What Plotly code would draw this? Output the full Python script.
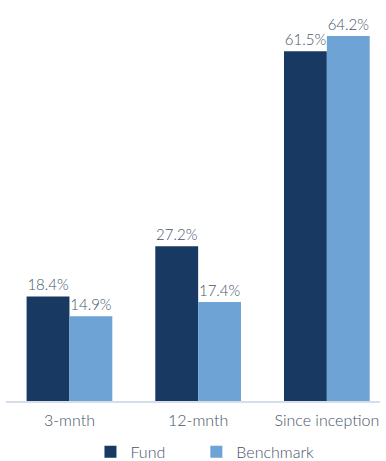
import plotly.graph_objects as go

categories = ["3-mnth", "12-mnth", "Since inception"]
fund = [18.4, 27.2, 61.5]
benchmark = [14.9, 17.4, 64.2]
series_names = ["Fund", "Benchmark"]

text_color = "#44546A"
font_family = "Lato, 'Open Sans', sans-serif"
pad = "\u00a0" * 6

fig = go.Figure()
fig.add_trace(go.Bar(
    name=series_names[0] + pad, x=categories, y=fund,
    marker=dict(color="#183A62", line=dict(width=0)),
    text=[f"{v:.1f}%" for v in fund], textposition="outside",
    textfont=dict(color=text_color, size=15, family=font_family, weight=300),
    cliponaxis=False,
))
fig.add_trace(go.Bar(
    name=series_names[1], x=categories, y=benchmark,
    marker=dict(color="#6EA3D6", line=dict(width=0)),
    text=[f"{v:.1f}%" for v in benchmark], textposition="outside",
    textfont=dict(color=text_color, size=15, family=font_family, weight=300),
    cliponaxis=False,
))

fig.update_layout(
    width=386, height=461,
    margin=dict(l=6, r=6, t=3, b=60, autoexpand=False),
    barmode="group", bargap=0.334, bargroupgap=0,
    paper_bgcolor="white", plot_bgcolor="white",
    font=dict(family=font_family, color=text_color, size=16, weight=300),
    showlegend=True,
    legend=dict(orientation="h", x=0.531, xanchor="center", xref="container",
                y=-0.128, yanchor="middle", yref="paper",
                font=dict(size=16, color=text_color, family=font_family, weight=300),
                itemwidth=30, traceorder="normal"),
)
fig.update_xaxes(
    range=[-0.493, 2.413], showline=True, linecolor="#D5DEE8", linewidth=1.5,
    showgrid=False, ticks="", automargin=False, ticklabelstandoff=4,
    tickfont=dict(size=16, color=text_color, family=font_family, weight=300),
    fixedrange=True,
)
fig.update_yaxes(range=[0, 70], visible=False, showgrid=False, zeroline=False, automargin=False)

fig.write_html("out.html")
